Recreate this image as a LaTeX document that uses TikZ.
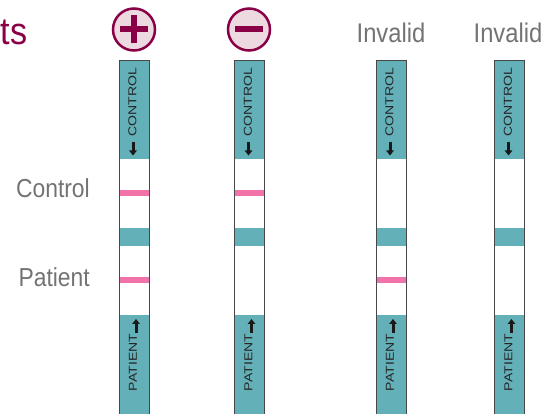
\documentclass[tikz,border=0pt]{standalone}
\usepackage{fontspec}
\setmainfont{Liberation Sans}
\usetikzlibrary{arrows.meta,positioning}

\definecolor{cmaroon}{rgb}{0.54,0.0,0.28}
\definecolor{cpale}{rgb}{0.93,0.85,0.88}
\definecolor{cteal}{rgb}{0.39,0.69,0.72}
\definecolor{cpink}{rgb}{0.95,0.45,0.66}
\definecolor{cgrey}{rgb}{0.45,0.45,0.45}
\definecolor{cedge}{rgb}{0.28,0.28,0.28}

\begin{document}
\begin{tikzpicture}[x=1pt,y=-1pt,
  headtext/.style={text=cgrey,font=\fontsize{27}{30}\selectfont,inner sep=0pt,anchor=base},
  rowtext/.style={text=cgrey,font=\fontsize{26}{30}\selectfont,inner sep=0pt,anchor=base east},
  striptext/.style={text=black!85,font=\fontsize{11.5}{12}\selectfont,inner sep=0pt,rotate=90},
  sign/.style={draw=cmaroon,fill=cpale,line width=2.5pt,circle,minimum size=42pt,inner sep=0pt},
  bar/.style={draw=cmaroon,line width=6pt},
  tip/.style={line width=3pt,black!90,-{Triangle[width=7.5pt,length=5pt]}}]
%
\useasboundingbox (0,0) rectangle (544,414);
%
\node[text=cmaroon,font=\fontsize{38}{40}\selectfont,inner sep=0pt,anchor=base west] (title) at (0.5,45) {\scalebox{0.9}[1]{ts}};
%
\node[sign] (plus) at (134,29.5) {};
\draw[bar] ([xshift=-14pt]plus.center) -- ([xshift=14pt]plus.center);
\draw[bar] ([yshift=-14pt]plus.center) -- ([yshift=14pt]plus.center);
\node[sign] (minus) at (249,29.5) {};
\draw[bar] ([xshift=-14pt]minus.center) -- ([xshift=14pt]minus.center);
%
\node[headtext] (inv1) at (391,43) {\scalebox{0.88}[1]{Invalid}};
\node[headtext] (inv2) at (508,43) {\scalebox{0.88}[1]{Invalid}};
%
\node[rowtext] (control) at (90,198) {\scalebox{0.88}[1]{Control}};
\node[rowtext] (patient) at (90,287) {\scalebox{0.88}[1]{Patient}};
%
% strips: number / centre / control line / patient line
\foreach \n/\x/\c/\p in {1/134/1/1,2/249.5/1/0,3/391/0/1,4/509.5/0/0}{
  \fill[cteal] (\x-15,61) rectangle (\x+15,159);
  \fill[cteal] (\x-15,228) rectangle (\x+15,246);
  \fill[cteal] (\x-15,315) rectangle (\x+15,420);
  \ifnum\c=1 \fill[cpink] (\x-15,190) rectangle (\x+15,196); \fi
  \ifnum\p=1 \fill[cpink] (\x-15,277) rectangle (\x+15,283); \fi
  \draw[cedge,line width=1pt] (\x-15,420) -- (\x-15,61) -- (\x+15,61) -- (\x+15,420);
  \node[striptext] (ctl\n) at (\x-1.5,102) {\scalebox{1.22}[1]{CONTROL}};
  \node[striptext] (pat\n) at (\x-1,362.5) {\scalebox{1.22}[1]{PATIENT}};
  \coordinate (ca\n) at (\x-1,142);
  \coordinate (cb\n) at (\x-1,155.5);
  \coordinate (pa\n) at (\x+2,333);
  \coordinate (pb\n) at (\x+2,319);
  \draw[tip] (ca\n) -- (cb\n);
  \draw[tip] (pa\n) -- (pb\n);
}
%
\end{tikzpicture}
\end{document}
